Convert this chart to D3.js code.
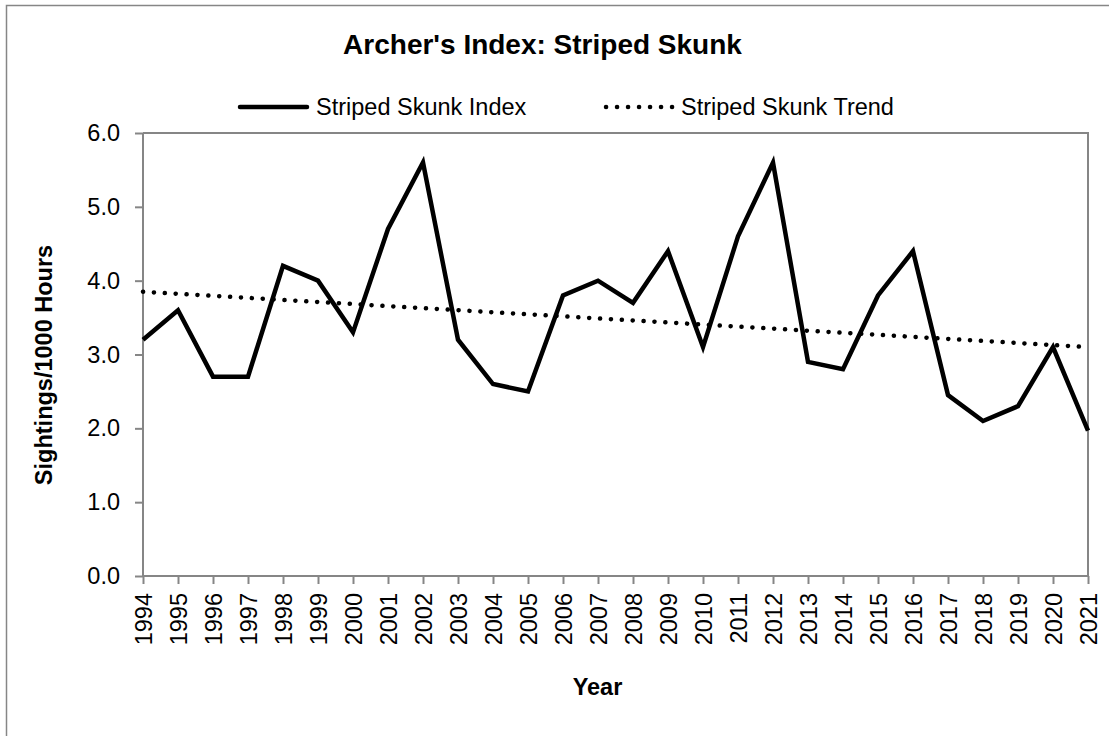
<!DOCTYPE html>
<html><head><meta charset="utf-8">
<script src="https://cdn.jsdelivr.net/npm/d3@7/dist/d3.min.js"></script>
<style>body{margin:0;background:#fff}svg{display:block;font-family:"Liberation Sans",Arial,sans-serif}</style>
</head><body><svg id="c" width="1109" height="736"></svg>
<script>
const years = [1994,1995,1996,1997,1998,1999,2000,2001,2002,2003,2004,2005,2006,2007,2008,2009,2010,2011,2012,2013,2014,2015,2016,2017,2018,2019,2020,2021];
const indexValues = [3.2,3.6,2.7,2.7,4.2,4.0,3.3,4.7,5.6,3.2,2.6,2.5,3.8,4.0,3.7,4.4,3.1,4.6,5.6,2.9,2.8,3.8,4.4,2.45,2.1,2.3,3.1,1.97];
const trendYears = [1994, 2021];
const trendValues = [3.85, 3.10];
const yTicks = [0,1,2,3,4,5,6];

const FS = 23.5;
const svg = d3.select("#c");
const m = {l:143, r:1088, t:133, b:576};
svg.append("rect").attr("x",6.5).attr("y",5.5).attr("width",1200).attr("height",800).attr("fill","#fff").attr("stroke","#868686").attr("stroke-width",1.5);

const x = d3.scalePoint().domain(years).range([m.l, m.r]);
const y = d3.scaleLinear().domain([0,6]).range([m.b, m.t]);

svg.append("path").attr("d",`M${m.l},${m.t}H${m.r}V${m.b}`).attr("fill","none").attr("stroke","#868686").attr("stroke-width",2);

const gy = svg.append("g").attr("transform",`translate(${m.l},0)`)
  .call(d3.axisLeft(y).tickValues(yTicks).tickFormat(d3.format(".1f")).tickSize(8).tickPadding(15));
const gx = svg.append("g").attr("transform",`translate(0,${m.b})`)
  .call(d3.axisBottom(x).tickSize(8).tickPadding(9));
[gy,gx].forEach(g=>{
  g.select(".domain").attr("stroke","#868686").attr("stroke-width",2);
  g.selectAll(".tick line").attr("stroke","#868686").attr("stroke-width",2);
  g.selectAll("text").attr("font-size",FS).attr("fill","#000").attr("font-family","Liberation Sans, Arial, sans-serif");
});
gx.select(".domain").attr("d",`M${m.l},0H${m.r}`);
gy.select(".domain").attr("d",`M0,${m.b}V${m.t}`);
gx.selectAll(".tick text").attr("transform","rotate(-90)").attr("text-anchor","end").attr("dy","0.35em").attr("x",-17).attr("y",0);

const line = d3.line().x((d,i)=>x(years[i])).y(d=>y(d));
svg.append("path").datum(indexValues).attr("d",line).attr("fill","none").attr("stroke","#000").attr("stroke-width",4.5).attr("stroke-linejoin","miter");

const tline = d3.line().x((d,i)=>x(trendYears[i])).y(d=>y(d));
svg.append("path").datum(trendValues).attr("d",tline).attr("fill","none").attr("stroke","#000").attr("stroke-width",4.5)
  .attr("stroke-linecap","round").attr("stroke-dasharray","0.1 10.8");

svg.append("text").attr("x",542.5).attr("y",54).attr("text-anchor","middle").attr("font-size",28).attr("font-weight","bold").text("Archer's Index: Striped Skunk");

// legend
svg.append("line").attr("x1",240).attr("x2",307).attr("y1",107).attr("y2",107).attr("stroke","#000").attr("stroke-width",4.5).attr("stroke-linecap","round");
svg.append("text").attr("x",316).attr("y",115).attr("font-size",FS).text("Striped Skunk Index");
svg.append("line").attr("x1",606).attr("x2",673).attr("y1",107).attr("y2",107).attr("stroke","#000").attr("stroke-width",4.5).attr("stroke-linecap","round").attr("stroke-dasharray","0.1 10.9");
svg.append("text").attr("x",681).attr("y",115).attr("font-size",FS).text("Striped Skunk Trend");

svg.append("text").attr("x",597.5).attr("y",695).attr("text-anchor","middle").attr("font-size",FS).attr("font-weight","bold").text("Year");
svg.append("text").attr("transform","translate(52,365) rotate(-90)").attr("text-anchor","middle").attr("font-size",FS).attr("font-weight","bold").text("Sightings/1000 Hours");
</script></body></html>
